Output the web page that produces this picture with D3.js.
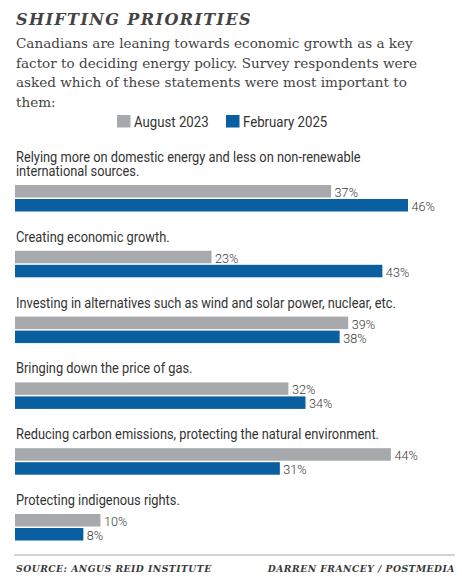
<!DOCTYPE html>
<html>
<head>
<meta charset="utf-8">
<script src="https://cdn.jsdelivr.net/npm/d3@7/dist/d3.min.js"></script>
<style>
  html, body { margin: 0; padding: 0; background: #fff; }
  svg { display: block; }
</style>
</head>
<body>
<svg id="chart" width="462" height="577"></svg>
<script>
const title = "SHIFTING PRIORITIES";
const subtitleLines = [
  "Canadians are leaning towards economic growth as a key",
  "factor to deciding energy policy. Survey respondents were",
  "asked which of these statements were most important to",
  "them:"
];
const seriesNames = ["August 2023", "February 2025"];
const categories = [
  "Relying more on domestic energy and less on non-renewable international sources.",
  "Creating economic growth.",
  "Investing in alternatives such as wind and solar power, nuclear, etc.",
  "Bringing down the price of gas.",
  "Reducing carbon emissions, protecting the natural environment.",
  "Protecting indigenous rights."
];
const aug2023 = [37, 23, 39, 32, 44, 10];
const feb2025 = [46, 43, 38, 34, 31, 8];
const sourceText = "SOURCE: ANGUS REID INSTITUTE";
const creditText = "DARREN FRANCEY / POSTMEDIA";

const colors = ["#a7a9ac", "#0a5fa1"];
const sansFont = "Roboto, 'Liberation Sans', sans-serif";
const serifFont = "'DejaVu Serif', 'Liberation Serif', serif";

const svg = d3.select("#chart");

// Title
svg.append("text")
  .attr("x", 16).attr("y", 25)
  .attr("font-family", serifFont)
  .attr("font-style", "italic")
  .attr("font-weight", "bold")
  .attr("font-size", 16)
  .attr("letter-spacing", 1.4)
  .attr("fill", "#444")
  .text(title);

// Subtitle
svg.append("g").selectAll("text")
  .data(subtitleLines)
  .join("text")
  .attr("x", 16)
  .attr("y", (d, i) => 48 + i * 19.6)
  .attr("font-family", serifFont)
  .attr("font-size", 13.55)
  .attr("fill", "#444")
  .text(d => d);

// Condensed sans text helper: horizontal squeeze to mimic condensed face
const squeeze = 0.93;
function sansText(sel, x, yPos, size) {
  return sel.append("text")
    .attr("transform", `translate(${x},${yPos}) scale(${squeeze},1)`)
    .attr("font-family", sansFont)
    .attr("font-size", size)
    .attr("fill", "#333");
}

// Legend
const legendX = [117, 226];
const legend = svg.append("g").selectAll("g")
  .data(seriesNames)
  .join("g")
  .attr("transform", (d, i) => `translate(${legendX[i]},115)`);
legend.append("rect")
  .attr("width", 13.5).attr("height", 12.5)
  .attr("fill", (d, i) => colors[i]);
legend.each(function(d) {
  sansText(d3.select(this), 17, 12, 14.2).text(d);
});

// Scales
const x = d3.scaleLinear().domain([0, 46]).range([15, 408]);
const y = d3.scaleLinear().domain([0, categories.length - 1]).range([185, 514]);
const barH = 12.5;
const seriesOffset = [0, 14];

const groups = svg.append("g").selectAll("g")
  .data(categories.map((c, i) => ({ label: c, values: [aug2023[i], feb2025[i]], i })))
  .join("g")
  .attr("transform", d => `translate(0,${y(d.i)})`);

// Category labels with wrapping
const maxLabelWidth = 395;
groups.each(function(d) {
  const g = d3.select(this);
  const probeText = g.append("text")
    .attr("font-family", sansFont)
    .attr("font-size", 13.8);
  const probe = probeText.append("tspan");
  const words = d.label.split(" ");
  const lines = [];
  let line = [];
  words.forEach(w => {
    const test = line.concat([w]).join(" ");
    probe.text(test);
    if (probe.node().getComputedTextLength() * squeeze > maxLabelWidth && line.length) {
      lines.push(line.join(" "));
      line = [w];
    } else {
      line.push(w);
    }
  });
  lines.push(line.join(" "));
  probeText.remove();
  const lh = 14.5;
  lines.forEach((l, k) => {
    sansText(g, 16, -9 - (lines.length - 1 - k) * lh, 13.8).text(l);
  });
});

// Bars
groups.selectAll("rect.bar")
  .data(d => d.values)
  .join("rect")
  .attr("class", "bar")
  .attr("x", x(0))
  .attr("y", (v, k) => seriesOffset[k])
  .attr("width", v => x(v) - x(0))
  .attr("height", barH)
  .attr("fill", (v, k) => colors[k]);

// Value labels
groups.each(function(d) {
  const g = d3.select(this);
  d.values.forEach((v, k) => {
    sansText(g, x(v) + 3.5, seriesOffset[k] + 12, 13.6)
      .attr("font-weight", 300)
      .attr("fill", "#3a3a3a")
      .text(v + "%");
  });
});

// Footer
svg.append("line")
  .attr("x1", 14).attr("x2", 455)
  .attr("y1", 555).attr("y2", 555)
  .attr("stroke", "#c4c4c4").attr("stroke-width", 1.5);

svg.append("text")
  .attr("x", 16).attr("y", 572)
  .attr("font-family", serifFont)
  .attr("font-style", "italic")
  .attr("font-weight", "bold")
  .attr("font-size", 9.2)
  .attr("letter-spacing", 0.5)
  .attr("fill", "#3a3a3a")
  .text(sourceText);

svg.append("text")
  .attr("x", 455).attr("y", 572)
  .attr("text-anchor", "end")
  .attr("font-family", serifFont)
  .attr("font-style", "italic")
  .attr("font-weight", "bold")
  .attr("font-size", 9.2)
  .attr("letter-spacing", 0.5)
  .attr("fill", "#3a3a3a")
  .text(creditText);
</script>
</body>
</html>
